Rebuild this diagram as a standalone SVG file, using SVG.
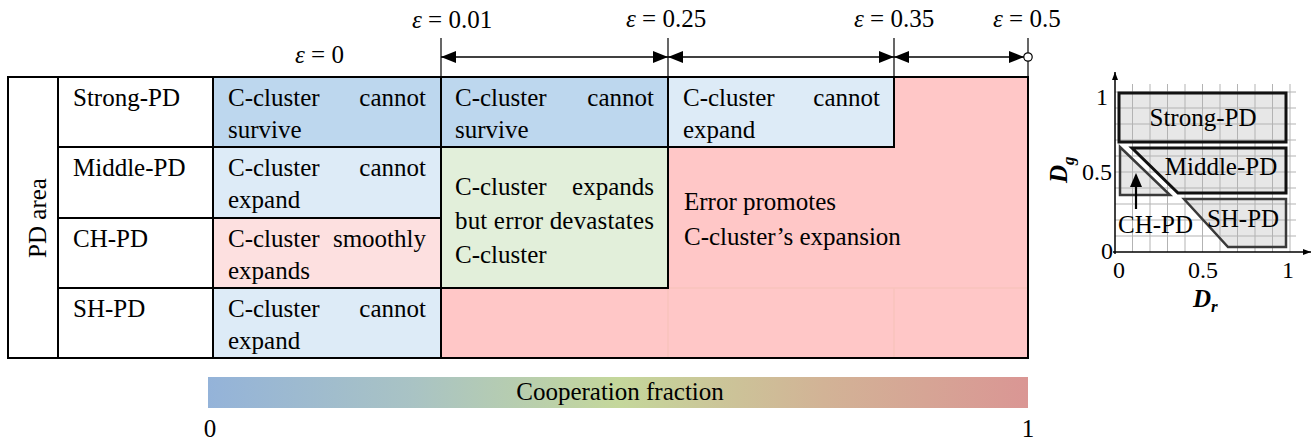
<svg xmlns="http://www.w3.org/2000/svg" width="1316" height="444" viewBox="0 0 1316 444">
<defs>
<style>
text{font-family:'Liberation Serif','Times New Roman',serif;font-size:25px;fill:#000}
.eps{font-style:italic}
.bl{stroke:#000;stroke-width:2;fill:none;stroke-linecap:square}
.faint{stroke:#f9c3bd;stroke-width:1.5}
.tick{stroke:#000;stroke-width:1.2}
.arr{stroke:#000;stroke-width:1.6;fill:none}
.grid{stroke:#b3b3b3;stroke-width:1}
.reg{fill:#e7e7e7;stroke:none}
.edgeA{fill:none;stroke:#111;stroke-width:3;stroke-linejoin:miter}
.edgeB{fill:none;stroke:#3a3a3a;stroke-width:2.5;stroke-linejoin:miter}
.ax{font-size:24px}
.bi{font-weight:bold;font-style:italic}
</style>
<marker id="ah" viewBox="0 0 15 12" refX="15" refY="6" markerWidth="15" markerHeight="12" markerUnits="userSpaceOnUse" orient="auto-start-reverse"><path d="M0,0 L15,6 L0,12 z" fill="#000"/></marker>
<marker id="sa" viewBox="0 0 8 6" refX="8" refY="3" markerWidth="8" markerHeight="6" markerUnits="userSpaceOnUse" orient="auto"><path d="M0,0 L8,3 L0,6 z" fill="#000"/></marker>
<linearGradient id="cb" x1="0" y1="0" x2="1" y2="0">
<stop offset="0" stop-color="#94b3d9"/>
<stop offset="0.25" stop-color="#a9c3c4"/>
<stop offset="0.5" stop-color="#c4d79b"/>
<stop offset="0.75" stop-color="#d2b396"/>
<stop offset="1" stop-color="#da9694"/>
</linearGradient>
</defs>
<rect width="1316" height="444" fill="#fff"/>

<!-- table -->
<g id="table">
<g id="cell-pd-area"><rect x="8" y="77" width="50" height="281" fill="#fff"/><text transform="translate(46,218) rotate(-90)" text-anchor="middle">PD area</text></g>
<g id="row-strong"><text x="73" y="106">Strong-PD</text></g>
<g id="row-middle"><text x="73" y="176">Middle-PD</text></g>
<g id="row-ch"><text x="73" y="247">CH-PD</text></g>
<g id="row-sh"><text x="73" y="317">SH-PD</text></g>

<g id="cell-s1"><rect x="213" y="77" width="228" height="70" fill="#bdd7ee"/><text x="228" y="106">C-cluster</text><text x="426" y="106" text-anchor="end">cannot</text><text x="228" y="138">survive</text></g>
<g id="cell-s2"><rect x="441" y="77" width="227" height="70" fill="#bdd7ee"/><text x="455" y="106">C-cluster</text><text x="654" y="106" text-anchor="end">cannot</text><text x="455" y="138">survive</text></g>
<g id="cell-s3"><rect x="668" y="77" width="226" height="70" fill="#ddebf7"/><text x="683" y="106">C-cluster</text><text x="880" y="106" text-anchor="end">cannot</text><text x="683" y="138">expand</text></g>
<g id="cell-m1"><rect x="213" y="147" width="228" height="71" fill="#ddebf7"/><text x="228" y="176">C-cluster</text><text x="426" y="176" text-anchor="end">cannot</text><text x="228" y="208">expand</text></g>
<g id="cell-c1"><rect x="213" y="218" width="228" height="70" fill="#fde0e0"/><text x="228" y="247">C-cluster</text><text x="426" y="247" text-anchor="end">smoothly</text><text x="228" y="279">expands</text></g>
<g id="cell-sh1"><rect x="213" y="288" width="228" height="70" fill="#ddebf7"/><text x="228" y="317">C-cluster</text><text x="426" y="317" text-anchor="end">cannot</text><text x="228" y="349">expand</text></g>
<g id="cell-green"><rect x="441" y="147" width="227" height="141" fill="#e2efda"/><text x="455" y="195">C-cluster</text><text x="654" y="195" text-anchor="end">expands</text><text x="455" y="229" textLength="199" lengthAdjust="spacing">but error devastates</text><text x="455" y="263">C-cluster</text></g>
<g id="cell-pink"><path d="M894,77 H1028 V358 H441 V288 H668 V147 H894 Z" fill="#ffc7c7"/>
<line class="faint" x1="668" y1="288" x2="1028" y2="288"/><line class="faint" x1="668" y1="288" x2="668" y2="358"/><line class="faint" x1="894" y1="288" x2="894" y2="358"/>
<text x="684" y="210">Error promotes</text><text x="684" y="245">C-cluster’s expansion</text></g>

<g id="grid-lines">
<rect class="bl" x="8" y="77" width="1020" height="281"/>
<line class="bl" x1="58" y1="77" x2="58" y2="358"/>
<line class="bl" x1="213" y1="77" x2="213" y2="358"/>
<line class="bl" x1="441" y1="77" x2="441" y2="358"/>
<line class="bl" x1="668" y1="77" x2="668" y2="288"/>
<line class="bl" x1="894" y1="77" x2="894" y2="147"/>
<line class="bl" x1="58" y1="147" x2="894" y2="147"/>
<line class="bl" x1="58" y1="218" x2="441" y2="218"/>
<line class="bl" x1="58" y1="288" x2="668" y2="288"/>
</g>
</g>

<!-- epsilon scale -->
<g id="eps-labels">
<text x="295" y="63"><tspan class="eps">ε</tspan> = 0</text>
<text x="412" y="28"><tspan class="eps">ε</tspan> = 0.01</text>
<text x="626" y="27"><tspan class="eps">ε</tspan> = 0.25</text>
<text x="854" y="27"><tspan class="eps">ε</tspan> = 0.35</text>
<text x="993" y="27"><tspan class="eps">ε</tspan> = 0.5</text>
</g>
<g id="connectors">
<line class="tick" x1="441" y1="38" x2="441" y2="77"/>
<line class="tick" x1="668" y1="38" x2="668" y2="77"/>
<line class="tick" x1="894" y1="38" x2="894" y2="77"/>
<line class="tick" x1="1028" y1="38" x2="1028" y2="77"/>
<line class="arr" x1="441" y1="57" x2="668" y2="57" marker-start="url(#ah)" marker-end="url(#ah)"/>
<line class="arr" x1="668" y1="57" x2="894" y2="57" marker-start="url(#ah)" marker-end="url(#ah)"/>
<line class="arr" x1="894" y1="57" x2="1024" y2="57" marker-start="url(#ah)" marker-end="url(#ah)"/>
<circle cx="1028" cy="57" r="4.2" fill="#fff" stroke="#000" stroke-width="1.2"/>
</g>

<!-- colour bar -->
<g id="colorbar">
<rect x="208" y="377" width="820" height="31" fill="url(#cb)"/>
<text x="620" y="400" text-anchor="middle">Cooperation fraction</text>
<text x="210" y="437" text-anchor="middle">0</text>
<text x="1028" y="437" text-anchor="middle">1</text>
</g>

<!-- inset -->
<g id="inset">
<g id="inset-fills">
<rect class="reg" x="1119" y="93" width="167" height="49"/>
<polygon class="reg" points="1132,148 1286,148 1286,193 1178,193"/>
<polygon class="reg" points="1120,147 1120,195 1170,195"/>
<polygon class="reg" points="1184,199 1286,199 1286,247 1228,247"/>
</g>
<g id="inset-grid">
<line class="grid" x1="1132.5" y1="84" x2="1132.5" y2="252"/>
<line class="grid" x1="1150" y1="84" x2="1150" y2="252"/>
<line class="grid" x1="1167.5" y1="84" x2="1167.5" y2="252"/>
<line class="grid" x1="1185" y1="84" x2="1185" y2="252"/>
<line class="grid" x1="1202.5" y1="84" x2="1202.5" y2="252"/>
<line class="grid" x1="1220" y1="84" x2="1220" y2="252"/>
<line class="grid" x1="1237.5" y1="84" x2="1237.5" y2="252"/>
<line class="grid" x1="1255" y1="84" x2="1255" y2="252"/>
<line class="grid" x1="1272.5" y1="84" x2="1272.5" y2="252"/>
<line class="grid" x1="1290" y1="84" x2="1290" y2="252"/>
<line class="grid" x1="1115" y1="236" x2="1296" y2="236"/>
<line class="grid" x1="1115" y1="220" x2="1296" y2="220"/>
<line class="grid" x1="1115" y1="204" x2="1296" y2="204"/>
<line class="grid" x1="1115" y1="188" x2="1296" y2="188"/>
<line class="grid" x1="1115" y1="172" x2="1296" y2="172"/>
<line class="grid" x1="1115" y1="156" x2="1296" y2="156"/>
<line class="grid" x1="1115" y1="140" x2="1296" y2="140"/>
<line class="grid" x1="1115" y1="124" x2="1296" y2="124"/>
<line class="grid" x1="1115" y1="108" x2="1296" y2="108"/>
<line class="grid" x1="1115" y1="92" x2="1296" y2="92"/>
</g>
<g id="inset-axes">
<line x1="1115" y1="254" x2="1115" y2="72" stroke="#000" stroke-width="1.5" marker-end="url(#sa)"/>
<line x1="1113" y1="252" x2="1311" y2="252" stroke="#000" stroke-width="1.5" marker-end="url(#sa)"/>
<text class="ax" x="1108" y="105" text-anchor="end">1</text>
<text class="ax" x="1112" y="180" text-anchor="end">0.5</text>
<text class="ax" x="1113" y="259" text-anchor="end">0</text>
<text class="ax" x="1119" y="278" text-anchor="middle">0</text>
<text class="ax" x="1203" y="278" text-anchor="middle">0.5</text>
<text class="ax" x="1288" y="278" text-anchor="middle">1</text>
<text class="bi" x="1193" y="307">D<tspan font-size="17" dy="5">r</tspan></text>
<text class="bi" transform="translate(1067,183) rotate(-90)">D<tspan font-size="17" dy="7">g</tspan></text>
</g>
<g id="region-strong"><rect class="edgeA" x="1119" y="93" width="167" height="49"/><text x="1203" y="126" text-anchor="middle">Strong-PD</text></g>
<g id="region-middle"><polygon class="edgeA" points="1132,148 1286,148 1286,193 1178,193"/><text x="1221" y="175" text-anchor="middle">Middle-PD</text></g>
<g id="region-ch"><polygon class="edgeB" points="1120,147 1120,195 1170,195"/>
<line x1="1136" y1="209" x2="1136" y2="185" stroke="#000" stroke-width="2.2"/><path d="M1136,173 L1142,187 L1130,187 Z" fill="#000"/>
<text x="1118" y="233">CH-PD</text></g>
<g id="region-sh"><polygon class="edgeB" points="1184,199 1286,199 1286,247 1228,247"/><text x="1243" y="227" text-anchor="middle">SH-PD</text></g>
</g>
</svg>
